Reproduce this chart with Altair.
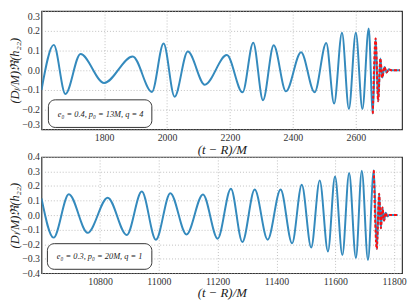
import altair as alt
import pandas as pd

# ---- data (extrema of the waveforms) ----
top_t = [1601, 1640, 1677, 1725, 1800, 1891, 1952, 1989, 2024, 2066, 2120, 2190,
         2240, 2274, 2305, 2339, 2378, 2426, 2469, 2506, 2531, 2556, 2578, 2600,
         2621, 2641, 2654, 2663, 2671, 2678, 2684, 2691, 2698, 2705, 2712, 2740]
top_h = [-0.100, 0.129, -0.120, 0.083, -0.064, 0.070, -0.110, 0.136, -0.134, 0.095, -0.073, 0.077,
         -0.112, 0.140, -0.152, 0.127, -0.107, 0.092, -0.112, 0.139, -0.169, 0.190, -0.196, 0.191,
         -0.197, 0.212, -0.220, 0.162, -0.157, 0.060, -0.037, 0.017, -0.011, 0.005, 0.000, 0.000]
top_red_start = 2652

bot_t = [10601, 10642, 10694, 10758, 10826, 10891, 10942, 10990, 11039, 11094, 11150, 11200,
         11245, 11284, 11326, 11370, 11414, 11453, 11486, 11518, 11547, 11575, 11599, 11624,
         11647, 11670, 11690, 11711, 11731, 11741, 11749, 11755, 11760, 11766, 11771, 11777,
         11783, 11812]
bot_h = [0.115, -0.155, 0.144, -0.122, 0.120, -0.137, 0.162, -0.169, 0.151, -0.133, 0.142, -0.162,
         0.182, -0.185, 0.176, -0.169, 0.176, -0.194, 0.209, -0.223, 0.239, -0.250, 0.266, -0.275,
         0.290, -0.295, 0.306, -0.309, 0.308, -0.234, 0.147, -0.090, 0.052, -0.038, 0.016, -0.008,
         0.000, 0.000]
bot_red_start = 11729

top_xdomain = [1601, 2747]
top_xticks = [1800, 2000, 2200, 2400, 2600]
top_ydomain = [-0.3, 0.3]
top_yticks = [-0.3, -0.2, -0.1, 0.0, 0.1, 0.2, 0.3]
top_label = "e₀ = 0.4, p₀ = 13M, q = 4"

bot_xdomain = [10601, 11827]
bot_xticks = [10800, 11000, 11200, 11400, 11600, 11800]
bot_ydomain = [-0.4, 0.4]
bot_yticks = [-0.4, -0.3, -0.2, -0.1, 0.0, 0.1, 0.2, 0.3, 0.4]
bot_label = "e₀ = 0.3, p₀ = 20M, q = 1"

FONT = "Liberation Serif"
BLUE = "#348ABD"


def panel(t, h, red_start, xdomain, xticks, ydomain, yticks, label, height, flush, box):
    df = pd.DataFrame({"t": t, "h": h})
    red = df[df["t"] >= red_start]
    x = alt.X("t:Q", scale=alt.Scale(domain=xdomain, nice=False, zero=False),
              axis=alt.Axis(values=xticks, tickCount=len(xticks) + 2, format="d",
                            title="(t − R)/M", labelOverlap=False))
    y = alt.Y("h:Q", scale=alt.Scale(domain=ydomain, nice=False, zero=False),
              axis=alt.Axis(values=yticks, tickCount=len(yticks) + 2, format=".1f",
                            title="(Dₗ/M)ℜ(h₂₂)", labelFlush=flush, labelOverlap=False))
    blue_line = alt.Chart(df).mark_line(color=BLUE, strokeWidth=2, interpolate="monotone",
                                        clip=True).encode(x=x, y=y)
    red_line = alt.Chart(red).mark_line(color="#ff1010", strokeWidth=2, strokeDash=[3, 2],
                                        interpolate="monotone", clip=True).encode(x="t:Q", y="h:Q")
    one = pd.DataFrame({"a": [0]})
    bx0, bx1, by0, by1, tx, ty = box
    rect = alt.Chart(one).mark_rect(cornerRadius=7, fill="white", stroke="#333333",
                                    strokeWidth=1).encode(
        x=alt.value(bx0), x2=alt.value(bx1), y=alt.value(by0), y2=alt.value(by1))
    txt = alt.Chart(one).mark_text(font=FONT, fontStyle="italic", fontSize=8.5,
                                   color="#222222").encode(
        x=alt.value(tx), y=alt.value(ty), text=alt.value(label))
    return alt.layer(blue_line, red_line, rect, txt).properties(width=366, height=height)


top = panel(top_t, top_h, top_red_start, top_xdomain, top_xticks, top_ydomain, top_yticks,
            top_label, 120, True, (7, 112, 90, 118, 60, 104))
bot = panel(bot_t, bot_h, bot_red_start, bot_xdomain, bot_xticks, bot_ydomain, bot_yticks,
            bot_label, 118, False, (6, 112, 88, 114, 59, 101))

chart = alt.vconcat(top, bot, spacing=28, bounds="flush").properties(
    padding=0
).configure_view(
    stroke="#333333", strokeWidth=1.2
).configure_axis(
    grid=True, gridDash=[1, 2], gridColor="#b0b0b0", gridWidth=0.8,
    domain=False, ticks=False,
    labelFont=FONT, labelFontSize=10, labelColor="#333333", labelPadding=2,
    titleFont=FONT, titleFontStyle="italic", titleFontWeight="normal", titleColor="#222222"
).configure_axisX(
    titleFontSize=13, titlePadding=1, labelPadding=3
).configure_axisY(
    titleFontSize=12.5, titlePadding=0
)

chart.save("out.html", embed_options={"renderer": "svg", "actions": False})
